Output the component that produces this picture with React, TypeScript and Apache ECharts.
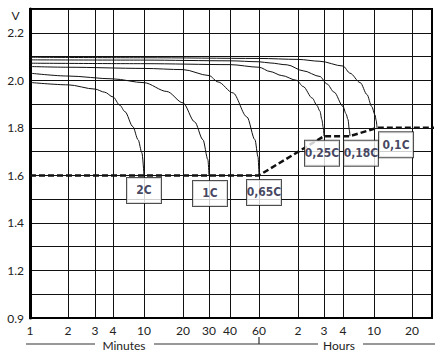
import React, { useEffect, useRef } from 'react';
import * as echarts from 'echarts';

// The original chart uses a non-uniform time scale (minutes, then hours).
const TICK_MINUTES = [1, 2, 3, 4, 10, 20, 30, 40, 60, 120, 180, 240, 600, 1200];
const TICK_LABELS = ['1', '2', '3', '4', '10', '20', '30', '40', '60', '2', '3', '4', '10', '20'];
const TICK_SCALE = [0, 38, 65, 83, 114, 153, 179, 200, 229, 268, 294, 313, 344, 382];
const SCALE_MAX = 402;

const Y_TICK_VALUES = [1.0, 1.2, 1.4, 1.6, 1.8, 2.0, 2.2];
const Y_TICK_LABELS = ['0.9', '1.2', '1.4', '1.6', '1.8', '2.0', '2.2'];

const RATES = ['2C', '1C', '0,65C', '0,25C', '0,18C', '0,1C'];

// [minutes, volts]
const CURVE_2C = [[1, 1.991], [2, 1.981], [3, 1.963], [3.5, 1.95], [4, 1.93], [4.9, 1.895], [5.7, 1.868], [7.2, 1.805], [8.4, 1.75], [9.4, 1.695], [10, 1.6]];
const CURVE_1C = [[1, 2.03], [2, 2.018], [4, 2.006], [10, 1.99], [15, 1.953], [20, 1.905], [24, 1.825], [27.3, 1.75], [29.5, 1.666], [30, 1.6]];
const CURVE_065C = [[1, 2.058], [2, 2.055], [10, 2.05], [20, 2.045], [30, 2.02], [34, 1.993], [41.7, 1.947], [50.7, 1.846], [56.7, 1.75], [59.2, 1.678], [60, 1.6]];
const CURVE_025C = [[1, 2.072], [10, 2.07], [40, 2.066], [60, 2.055], [73, 2.037], [90, 2.02], [117, 2.0], [130, 1.974], [150, 1.925], [161, 1.895], [169, 1.87], [174, 1.835], [178, 1.8], [180, 1.765]];
const CURVE_018C = [[1, 2.086], [10, 2.085], [40, 2.082], [60, 2.078], [73, 2.073], [99, 2.065], [130, 2.04], [169, 2.016], [188, 1.985], [210, 1.95], [240, 1.89], [262, 1.86], [278, 1.835], [290, 1.79], [295, 1.765]];
const CURVE_01C = [[1, 2.097], [10, 2.095], [60, 2.092], [120, 2.088], [169, 2.08], [240, 2.06], [295, 2.03], [400, 1.99], [488, 1.94], [560, 1.89], [611, 1.855], [625, 1.83], [634, 1.8]];

const CURVES = [CURVE_2C, CURVE_1C, CURVE_065C, CURVE_025C, CURVE_018C, CURVE_01C];

// end-of-discharge voltage line
const CUTOFF = [[1, 1.6], [60, 1.6], [180, 1.765], [295, 1.765], [634, 1.8], [1800, 1.8]];

// label box offsets from each curve's end point (px)
const LABEL_OFFSETS = [[0, 15], [1, 18], [5, 17], [-2, 17], [11, 17], [19, 17]];

const toScale = (m: number): number => {
  const n = TICK_MINUTES.length;
  let i = 0;
  while (i < n - 2 && m > TICK_MINUTES[i + 1]) i++;
  const a = Math.log(TICK_MINUTES[i]);
  const b = Math.log(TICK_MINUTES[i + 1]);
  return TICK_SCALE[i] + ((Math.log(m) - a) / (b - a)) * (TICK_SCALE[i + 1] - TICK_SCALE[i]);
};

const mapPts = (pts: number[][]) => pts.map(([m, v]) => [toScale(m), v]);

export default function App() {
  const ref = useRef<HTMLDivElement>(null);

  useEffect(() => {
    if (!ref.current) return;
    const chart = echarts.init(ref.current, undefined, { renderer: 'svg' });
    const font = 'Lato';

    const curveSeries = CURVES.map((c, i) => ({
      type: 'line',
      name: RATES[i],
      data: mapPts(c),
      showSymbol: false,
      symbol: 'none',
      smooth: 0.3,
      smoothMonotone: 'x',
      lineStyle: { color: '#111', width: 1 },
      z: 3,
    }));

    const labelData = CURVES.map((c, i) => {
      const last = c[c.length - 1];
      return {
        name: RATES[i],
        value: [toScale(last[0]), last[1]],
        label: { offset: LABEL_OFFSETS[i] },
      };
    });

    const option: any = {
      animation: false,
      backgroundColor: '#ffffff',
      grid: {
        left: 30, right: 10, top: 9, bottom: 38,
        show: true, borderColor: '#000', borderWidth: 2, backgroundColor: 'transparent',
        outerBoundsMode: 'none',
      },
      xAxis: {
        type: 'value', min: 0, max: SCALE_MAX,
        axisLine: { show: true, lineStyle: { color: '#000', width: 2 } },
        axisTick: { show: false, customValues: TICK_SCALE.slice(1) },
        splitLine: { show: true, lineStyle: { color: '#111', width: 1 } },
        axisLabel: {
          customValues: TICK_SCALE,
          formatter: (v: number) => {
            const i = TICK_SCALE.indexOf(v);
            return i >= 0 ? TICK_LABELS[i] : '';
          },
          color: '#222', fontFamily: font, fontSize: 12, margin: 6,
        },
      },
      yAxis: {
        type: 'value', min: 1.0, max: 2.3, interval: 0.1,
        axisLine: { show: true, lineStyle: { color: '#000', width: 3 } },
        axisTick: { show: false },
        splitLine: { show: true, lineStyle: { color: '#111', width: 1 } },
        axisLabel: {
          customValues: Y_TICK_VALUES,
          formatter: (v: number) => {
            const i = Y_TICK_VALUES.findIndex((t) => Math.abs(t - v) < 1e-6);
            return i >= 0 ? Y_TICK_LABELS[i] : '';
          },
          color: '#222', fontFamily: font, fontSize: 12, margin: 6,
        },
      },
      series: [
        ...curveSeries,
        {
          type: 'line',
          name: 'cutoff',
          data: mapPts(CUTOFF),
          showSymbol: false,
          symbol: 'none',
          lineStyle: { color: '#111', width: 2.5, type: [6, 3] },
          z: 4,
        },
        {
          type: 'scatter',
          name: 'labels',
          data: labelData,
          symbol: 'rect',
          symbolSize: 1,
          itemStyle: { color: 'rgba(0,0,0,0)' },
          z: 10,
          label: {
            show: true,
            position: 'inside',
            formatter: '{b}',
            width: 24,
            height: 15,
            padding: [5, 5],
            align: 'center',
            verticalAlign: 'middle',
            backgroundColor: '#ffffff',
            borderColor: '#222',
            borderWidth: 1,
            color: '#15153a',
            fontWeight: 'bold',
            fontSize: 12,
            fontFamily: 'DejaVu Sans Condensed',
          },
        },
      ],
      graphic: [
        { type: 'text', x: 15.5, y: 15.5, style: { text: 'V', fontSize: 12, fontFamily: font, fill: '#222', align: 'center', verticalAlign: 'middle' } },
        { type: 'line', shape: { x1: 26, y1: 344, x2: 95, y2: 344 }, style: { stroke: '#333', lineWidth: 1.2 } },
        { type: 'text', x: 124, y: 345, style: { text: 'Minutes', fontSize: 12, fontFamily: font, fill: '#222', align: 'center', verticalAlign: 'middle' } },
        { type: 'line', shape: { x1: 154, y1: 344, x2: 318, y2: 344 }, style: { stroke: '#333', lineWidth: 1.2 } },
        { type: 'line', shape: { x1: 259, y1: 337, x2: 259, y2: 344 }, style: { stroke: '#333', lineWidth: 1.2 } },
        { type: 'text', x: 339, y: 345, style: { text: 'Hours', fontSize: 12, fontFamily: font, fill: '#222', align: 'center', verticalAlign: 'middle' } },
        { type: 'line', shape: { x1: 363, y1: 344, x2: 435, y2: 344 }, style: { stroke: '#333', lineWidth: 1.2 } },
      ],
    };

    chart.setOption(option);
    return () => chart.dispose();
  }, []);

  return (
    <div
      ref={ref}
      style={{ position: 'fixed', left: 0, top: 0, width: 442, height: 356, background: '#fff' }}
    />
  );
}
